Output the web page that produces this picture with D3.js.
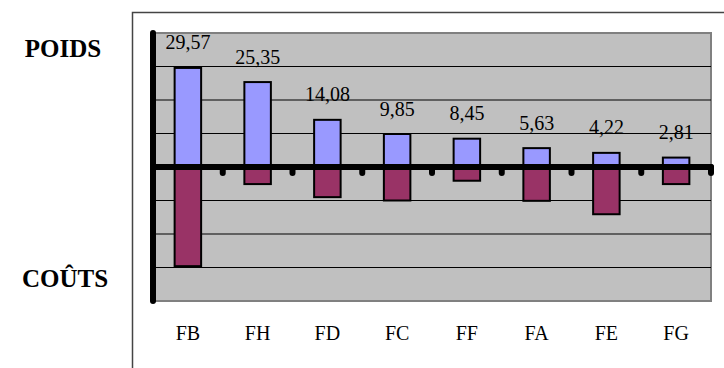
<!DOCTYPE html>
<html>
<head>
<meta charset="utf-8">
<script src="https://cdn.jsdelivr.net/npm/d3@7"></script>
<style>
  html, body { margin: 0; padding: 0; background: #fff; }
  svg { display: block; }
</style>
</head>
<body>
<svg id="chart" width="724" height="368"></svg>
<script>
// Categories, in display order
const categories = ["FB", "FH", "FD", "FC", "FF", "FA", "FE", "FG"];
// Weight of each factor (positive side)
const poids = [29.57, 25.35, 14.08, 9.85, 8.45, 5.63, 4.22, 2.81];
// Cost of each factor (negative side)
const couts = [-29.6, -5.1, -9.0, -10.0, -4.1, -10.1, -14.1, -5.1];
// Value axis: gridlines every 10 units
const yDomain = [-40, 40];
const gridValues = [-30, -20, -10, 10, 20, 30];

const serif = "'Liberation Serif', 'Times New Roman', Times, serif";
const fmt = v => v.toFixed(2).replace(".", ",");

const svg = d3.select("#chart");
const plot = { left: 153, right: 711, top: 33, bottom: 301 };

const x = d3.scaleBand()
  .domain(categories)
  .range([plot.left, plot.right])
  .paddingInner(0.62)
  .paddingOuter(0.31);
const step = x.step();

const y = d3.scaleLinear().domain(yDomain).range([plot.bottom, plot.top]);

// Outer frame (runs off the right and bottom edges)
svg.append("rect")
  .attr("x", 132.5).attr("y", 12.5)
  .attr("width", 700).attr("height", 400)
  .attr("fill", "none").attr("stroke", "#444").attr("stroke-width", 1.5);

// Plot background
svg.append("rect")
  .attr("x", plot.left).attr("y", plot.top)
  .attr("width", plot.right - plot.left).attr("height", plot.bottom - plot.top)
  .attr("fill", "#C0C0C0").attr("stroke", "#808080").attr("stroke-width", 2);

// Horizontal gridlines
svg.append("g").selectAll("line").data(gridValues).join("line")
  .attr("x1", plot.left).attr("x2", plot.right)
  .attr("y1", d => y(d)).attr("y2", d => y(d))
  .attr("stroke", "#000").attr("stroke-width", 1);

// Weight bars (above zero)
svg.append("g").selectAll("rect").data(categories).join("rect")
  .attr("x", d => x(d))
  .attr("y", (d, i) => y(poids[i]))
  .attr("width", x.bandwidth())
  .attr("height", (d, i) => y(0) - y(poids[i]))
  .attr("fill", "#9999FF").attr("stroke", "#000").attr("stroke-width", 2);

// Cost bars (below zero)
svg.append("g").selectAll("rect").data(categories).join("rect")
  .attr("x", d => x(d))
  .attr("y", y(0))
  .attr("width", x.bandwidth())
  .attr("height", (d, i) => y(couts[i]) - y(0))
  .attr("fill", "#993366").attr("stroke", "#000").attr("stroke-width", 2);

// Zero axis with rounded tick marks between categories
const zeroY = y(0);
svg.append("line")
  .attr("x1", plot.left).attr("x2", plot.right)
  .attr("y1", zeroY).attr("y2", zeroY)
  .attr("stroke", "#000").attr("stroke-width", 6).attr("stroke-linecap", "round");

svg.append("g").selectAll("line").data(categories).join("line")
  .attr("x1", d => x(d) + x.bandwidth() / 2 + step / 2)
  .attr("x2", d => x(d) + x.bandwidth() / 2 + step / 2)
  .attr("y1", zeroY).attr("y2", zeroY + 6)
  .attr("stroke", "#000").attr("stroke-width", 6).attr("stroke-linecap", "round");

// Vertical value axis
svg.append("line")
  .attr("x1", plot.left).attr("x2", plot.left)
  .attr("y1", plot.top).attr("y2", plot.bottom)
  .attr("stroke", "#000").attr("stroke-width", 6).attr("stroke-linecap", "round");

// Weight value labels
svg.append("g").selectAll("text").data(categories).join("text")
  .attr("x", d => x(d) + x.bandwidth() / 2)
  .attr("y", (d, i) => y(poids[i]) - 18.5)
  .attr("text-anchor", "middle")
  .attr("font-family", serif)
  .attr("font-size", 20)
  .text((d, i) => fmt(poids[i]));

// Category labels
svg.append("g").selectAll("text").data(categories).join("text")
  .attr("x", d => x(d) + x.bandwidth() / 2)
  .attr("y", 340)
  .attr("text-anchor", "middle")
  .attr("font-family", serif)
  .attr("font-size", 20)
  .text(d => d);

// Side titles
svg.append("text")
  .attr("x", 63).attr("y", 57)
  .attr("text-anchor", "middle")
  .attr("font-family", serif)
  .attr("font-size", 25).attr("font-weight", "bold")
  .text("POIDS");
svg.append("text")
  .attr("x", 65).attr("y", 287)
  .attr("text-anchor", "middle")
  .attr("font-family", serif)
  .attr("font-size", 25).attr("font-weight", "bold")
  .text("COÛTS");
</script>
</body>
</html>
